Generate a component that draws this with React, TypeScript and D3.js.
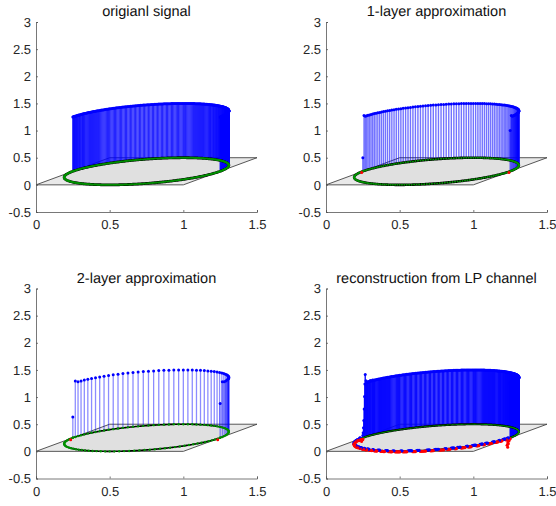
import React, { useEffect, useRef } from 'react';
import * as d3 from 'd3';

const xTicks = [0, 0.5, 1, 1.5];
const yTicks = [-0.5, 0, 0.5, 1, 1.5, 2, 2.5, 3];
const titles = ['origianl signal', '1-layer approximation', '2-layer approximation', 'reconstruction from LP channel'];

// the grey sheet under the ring, in axis units
const planeX = [0, 1, 1.5, 0.5];
const planeY = [0, 0, 0.5, 0.5];

// sample positions round the ring, degrees
const denseAngles = [
  0, 0.9, 1.8, 2.7, 3.6, 4.5, 5.4, 6.3, 7.2, 8.1, 9, 9.9, 10.8, 11.7, 12.6, 13.5, 14.4, 15.3, 16.2, 17.1,
  18, 18.9, 19.8, 20.7, 21.6, 22.5, 23.4, 24.3, 25.2, 26.1, 27, 27.9, 28.8, 29.7, 30.6, 31.5, 32.4, 33.3, 34.2, 35.1,
  36, 36.9, 37.8, 38.7, 39.6, 40.5, 41.4, 42.3, 43.2, 44.1, 45, 45.9, 46.8, 47.7, 48.6, 49.5, 50.4, 51.3, 52.2, 53.1,
  54, 54.9, 55.8, 56.7, 57.6, 58.5, 59.4, 60.3, 61.2, 62.1, 63, 63.9, 64.8, 65.7, 66.6, 67.5, 68.4, 69.3, 70.2, 71.1,
  72, 72.9, 73.8, 74.7, 75.6, 76.5, 77.4, 78.3, 79.2, 80.1, 81, 81.9, 82.8, 83.7, 84.6, 85.5, 86.4, 87.3, 88.2, 89.1,
  90, 90.9, 91.8, 92.7, 93.6, 94.5, 95.4, 96.3, 97.2, 98.1, 99, 99.9, 100.8, 101.7, 102.6, 103.5, 104.4, 105.3, 106.2, 107.1,
  108, 108.9, 109.8, 110.7, 111.6, 112.5, 113.4, 114.3, 115.2, 116.1, 117, 117.9, 118.8, 119.7, 120.6, 121.5, 122.4, 123.3, 124.2, 125.1,
  126, 126.9, 127.8, 128.7, 129.6, 130.5, 131.4, 132.3, 133.2, 134.1, 135, 135.9, 136.8, 137.7, 138.6, 139.5, 140.4, 141.3, 142.2, 143.1,
  144, 144.9, 145.8, 146.7, 147.6, 148.5, 149.4, 150.3, 151.2, 152.1, 153, 153.9, 154.8, 155.7, 156.6, 157.5, 158.4, 159.3, 160.2, 161.1,
  162, 162.9, 163.8, 164.7, 165.6, 166.5, 167.4, 168.3, 169.2, 170.1, 171, 171.9, 172.8, 173.7, 174.6, 175.5, 176.4, 177.3, 178.2, 179.1,
  180,
];
const mediumAngles = [
  0, 1.8, 3.6, 5.4, 7.2, 9, 10.8, 12.6, 14.4, 16.2, 18, 19.8, 21.6, 23.4, 25.2, 27, 28.8, 30.6, 32.4, 34.2,
  36, 37.8, 39.6, 41.4, 43.2, 45, 46.8, 48.6, 50.4, 52.2, 54, 55.8, 57.6, 59.4, 61.2, 63, 64.8, 66.6, 68.4, 70.2,
  72, 73.8, 75.6, 77.4, 79.2, 81, 82.8, 84.6, 86.4, 88.2, 90, 91.8, 93.6, 95.4, 97.2, 99, 100.8, 102.6, 104.4, 106.2,
  108, 109.8, 111.6, 113.4, 115.2, 117, 118.8, 120.6, 122.4, 124.2, 126, 127.8, 129.6, 131.4, 133.2, 135, 136.8, 138.6, 140.4, 142.2,
  144, 145.8, 147.6, 149.4, 151.2, 153, 154.8, 156.6, 158.4, 160.2, 162, 163.8, 165.6, 167.4, 169.2, 171, 172.8, 174.6, 176.4, 178.2,
  180,
];
const coarseAngles = [
  0, 3.6, 7.2, 10.8, 14.4, 18, 21.6, 25.2, 28.8, 32.4, 36, 39.6, 43.2, 46.8, 50.4, 54, 57.6, 61.2, 64.8, 68.4,
  72, 75.6, 79.2, 82.8, 86.4, 90, 93.6, 97.2, 100.8, 104.4, 108, 111.6, 115.2, 118.8, 122.4, 126, 129.6, 133.2, 136.8, 140.4,
  144, 147.6, 151.2, 154.8, 158.4, 162, 165.6, 169.2, 172.8, 176.4, 180,
];

// heights over the upper half of the ring
const originalValues = [
  1, 1, 1, 1, 1, 1, 1, 1, 1, 1, 1, 1, 1, 1, 1, 1, 1, 1, 1, 1,
  1, 1, 1, 1, 1, 1, 1, 1, 1, 1, 1, 1, 1, 1, 1, 1, 1, 1, 1, 1,
  1, 1, 1, 1, 1, 1, 1, 1, 1, 1, 1, 1, 1, 1, 1, 1, 1, 1, 1, 1,
  1, 1, 1, 1, 1, 1, 1, 1, 1, 1, 1, 1, 1, 1, 1, 1, 1, 1, 1, 1,
  1, 1, 1, 1, 1, 1, 1, 1, 1, 1, 1, 1, 1, 1, 1, 1, 1, 1, 1, 1,
  1, 1, 1, 1, 1, 1, 1, 1, 1, 1, 1, 1, 1, 1, 1, 1, 1, 1, 1, 1,
  1, 1, 1, 1, 1, 1, 1, 1, 1, 1, 1, 1, 1, 1, 1, 1, 1, 1, 1, 1,
  1, 1, 1, 1, 1, 1, 1, 1, 1, 1, 1, 1, 1, 1, 1, 1, 1, 1, 1, 1,
  1, 1, 1, 1, 1, 1, 1, 1, 1, 1, 1, 1, 1, 1, 1, 1, 1, 1, 1, 1,
  1, 1, 1, 1, 1, 1, 1, 1, 1, 1, 1, 1, 1, 1, 1, 1, 1, 1, 1, 1,
  1,
];
const layer1Values = [
  0.75, 1.02, 1, 1, 1, 1, 1, 1, 1, 1, 1, 1, 1, 1, 1, 1, 1, 1, 1, 1,
  1, 1, 1, 1, 1, 1, 1, 1, 1, 1, 1, 1, 1, 1, 1, 1, 1, 1, 1, 1,
  1, 1, 1, 1, 1, 1, 1, 1, 1, 1, 1, 1, 1, 1, 1, 1, 1, 1, 1, 1,
  1, 1, 1, 1, 1, 1, 1, 1, 1, 1, 1, 1, 1, 1, 1, 1, 1, 1, 1, 1,
  1, 1, 1, 1, 1, 1, 1, 1, 1, 1, 1, 1, 1, 1, 1, 1, 1, 1, 1, 1.02,
  0.25,
];
const layer2Values = [
  0.63, 1.015, 1, 1, 1, 1, 1, 1, 1, 1, 1, 1, 1, 1, 1, 1, 1, 1, 1, 1,
  1, 1, 1, 1, 1, 1, 1, 1, 1, 1, 1, 1, 1, 1, 1, 1, 1, 1, 1, 1,
  1, 1, 1, 1, 1, 1, 1, 1, 1, 1.03, 0.385,
];
const reconValues = [
  1, 1.02, 1.01, 1, 1, 0.99, 1, 1.01, 1, 1, 1, 0.99, 1, 1, 1.01, 1, 1, 1, 1, 1,
  1, 1, 1, 1, 1, 1, 1, 1, 1, 1, 1, 1, 1, 1, 1, 1, 1, 1, 1, 1,
  1, 1, 1, 1, 1, 1, 1, 1, 1, 1, 1, 1, 1, 1, 1, 1, 1, 1, 1, 1,
  1, 1, 1, 1, 1, 1, 1, 1, 1, 1, 1, 1, 1, 1, 1, 1, 1, 1, 1, 1,
  1, 1, 1, 1, 1, 1, 1, 1, 1, 1, 1, 1, 1, 1, 1, 1, 1, 1, 1, 1,
  1, 1, 1, 1, 1, 1, 1, 1, 1, 1, 1, 1, 1, 1, 1, 1, 1, 1, 1, 1,
  1, 1, 1, 1, 1, 1, 1, 1, 1, 1, 1, 1, 1, 1, 1, 1, 1, 1, 1, 1,
  1, 1, 1, 1, 1, 1, 1, 1, 1, 1, 1, 1, 1, 1, 1, 1, 1, 1, 1, 1,
  1, 1, 1, 1, 1, 1, 1, 1, 1, 1, 1, 1, 1, 1, 1, 1, 1, 1, 1, 1,
  1, 1, 1, 1, 1, 1, 1.01, 1, 1, 1.01, 1, 1, 0.99, 1, 1.01, 1.03,
];
// small leftovers on the lower half, red when below zero
const reconLowerValues = [
  -0.02, -0.02, -0.02, 0.01, 0.01, 0.01, -0.01, -0.01, 0.01, 0.01, 0.01, 0.01, -0.01, -0.01, -0.01, 0.01, 0.01, -0.01, -0.01, -0.01,
  -0.01, 0.01, 0.01, 0.01, -0.01, -0.01, -0.01, -0.01, 0.01, 0.01, 0.01, -0.01, -0.01, 0.01, 0.01, 0.01, -0.01, -0.01, -0.01, 0.01,
  0.01, 0.01, 0.01, -0.01, -0.01, -0.01, 0.01, 0.01, -0.01, -0.01, -0.01, -0.01, 0.01, 0.01, 0.01, -0.01, -0.01, 0.01, 0.01, 0.01,
  -0.01, -0.01, -0.01, 0.01, 0.01, -0.01, -0.01, -0.01, -0.01, 0.01, 0.01, 0.01, 0.01, -0.01, -0.01, -0.01, 0.01, 0.01, 0.01, -0.01,
  -0.01, -0.01, -0.01, -0.01, 0.01, 0.01, 0.01, -0.01, -0.01, -0.01, 0.01, 0.01, 0.01, 0.01, -0.01, -0.01, -0.01, -0.01, 0.01, 0.01,
  -0.01, -0.01, -0.01, -0.01, -0.01, 0.01, 0.01, -0.01, -0.01, -0.01, -0.01, 0.01, 0.01, 0.01, -0.01, -0.01, -0.01, -0.01, -0.01, 0.01,
  0.01, 0.01, -0.01, -0.01, -0.01, -0.01, 0.01, 0.01, -0.01, -0.01, -0.01, -0.01, 0.01, 0.01, 0.01, -0.01, -0.01, -0.01, 0.01, 0.01,
  -0.01, -0.01, -0.01, 0.01, 0.01, 0.01, -0.01, -0.01, 0.01, 0.01, 0.01, -0.01, -0.01, -0.01, 0.01, 0.01, -0.01, -0.01, -0.01, 0.01,
  0.01, 0.01, -0.01, -0.01, 0.01, 0.01, 0.01, -0.01, -0.01, -0.01, 0.01, 0.01, -0.01, -0.01, 0.01, 0.01, 0.01, -0.01, -0.01, 0.01,
  0.01, -0.01, -0.01, -0.01, 0.01, 0.01, -0.01, -0.01, 0.01, 0.01, -0.01, -0.01, -0.02, -0.02, 0.02, 0.02, -0.02, -0.03, -0.03, -0.03,
  -0.03,
];

// odd samples next to the jumps
const layer1EdgeAngles = [-1.8, 181.8];
const layer1EdgeValues = [-0.015, -0.015];
const layer2EdgeAngles = [-3.6, 183.6];
const layer2EdgeValues = [-0.02, -0.02];
const reconEdgeAngles = [176.5, 177, 177.5, 178, 178.5, 179, 179.5, 180, 181, 182, -1.8, -2.7, -3.6, -4.5];
const reconEdgeValues = [1.15, 0.98, 0.75, 0.52, 0.31, 0.18, 0.09, 0.04, -0.03, -0.06, -0.05, -0.1, -0.16, -0.12];

const panels = [
  { angles: denseAngles, values: originalValues, edgeAngles: [], edgeValues: [], lower: [], stemW: 1.3, stemO: 0.85, ringW: 2.8, dotR: 1 },
  { angles: mediumAngles, values: layer1Values, edgeAngles: layer1EdgeAngles, edgeValues: layer1EdgeValues, lower: [], stemW: 1.4, stemO: 0.55, ringW: 2.6, dotR: 1 },
  { angles: coarseAngles, values: layer2Values, edgeAngles: layer2EdgeAngles, edgeValues: layer2EdgeValues, lower: [], stemW: 1.3, stemO: 0.45, ringW: 1.6, dotR: 1.2 },
  { angles: denseAngles, values: reconValues, edgeAngles: reconEdgeAngles, edgeValues: reconEdgeValues, lower: reconLowerValues, stemW: 1.4, stemO: 0.95, ringW: 2.2, dotR: 0.6 },
];

const lefts = [36, 326, 36, 326];
const tops = [22, 22, 288.5, 288.5];
const plotW = 221;
const plotH = 190;

const BLUE = '#0000ff';
const RED = '#ff0000';
const GREEN = '#009000';
const FONT = '"Liberation Sans", Arial, sans-serif';

// oblique view of the circle lying on the sheet
const ringX = (deg: number) => {
  const t = (deg * Math.PI) / 180;
  return 0.75 + 0.5 * Math.cos(t) + 0.25 * Math.sin(t);
};
const ringY = (deg: number) => 0.25 + 0.25 * Math.sin((deg * Math.PI) / 180);

function Panel({ index }: { index: number }) {
  const gRef = useRef<SVGGElement>(null);
  const p = panels[index];

  const x = d3.scaleLinear().domain([0, 1.5]).range([0, plotW]);
  const y = d3.scaleLinear().domain([-0.5, 3]).range([plotH, 0]);

  useEffect(() => {
    const g = d3.select(gRef.current);
    g.selectAll('.ax').remove();
    const ax = g.append('g').attr('class', 'ax');
    const xa = ax.append('g').attr('transform', `translate(0,${plotH})`)
      .call(d3.axisBottom(x).tickValues(xTicks).tickSize(-2).tickPadding(8).tickFormat((d) => String(d)));
    const ya = ax.append('g')
      .call(d3.axisLeft(y).tickValues(yTicks).tickSize(-2).tickPadding(5).tickFormat((d) => String(d)));
    [xa, ya].forEach((a) => {
      a.attr('font-family', FONT).attr('font-size', 13);
      a.selectAll('text').attr('fill', '#262626').attr('text-rendering', 'geometricPrecision');
      a.selectAll('line,path').attr('stroke', '#555555').attr('stroke-width', 0.8);
    });
  }, []);

  const planePts = planeX.map((v, i) => [x(v), y(planeY[i])]);
  const planePath = d3.line()(planePts as [number, number][]) + 'Z';

  const ringAngles = denseAngles.concat(denseAngles.slice(1).map((a) => 180 + a));
  const ringPath = d3.line<number>().x((a) => x(ringX(a))).y((a) => y(ringY(a)))(ringAngles) + 'Z';

  const upper = p.values.map((v, i) => ({ a: p.angles[i], v }));
  const edges = p.edgeValues.map((v, i) => ({ a: p.edgeAngles[i], v }));
  const lowerDots = p.lower.map((v, i) => ({ a: -denseAngles[i], v }));
  const stems = upper.concat(edges);
  const greenAngles = p.angles.concat(p.angles.map((a) => -a));

  return (
    <g ref={gRef} transform={`translate(${lefts[index]},${tops[index]})`}>
      <path d={planePath} fill="#e9e9e9" stroke="#444444" strokeWidth={0.9} />
      <path d={ringPath} fill="#e0e0e0" stroke="none" />
      {stems.map((d, i) => (
        <line key={i} x1={x(ringX(d.a))} x2={x(ringX(d.a))} y1={y(ringY(d.a))} y2={y(ringY(d.a) + d.v)}
          stroke={d.v < 0 ? RED : BLUE} strokeWidth={p.stemW} strokeOpacity={p.stemO} />
      ))}
      <path d={ringPath} fill="none" stroke="#000000" strokeWidth={p.ringW} />
      {greenAngles.map((a, i) => (
        <circle key={i} cx={x(ringX(a))} cy={y(ringY(a))} r={p.dotR} fill={GREEN} />
      ))}
      {lowerDots.map((d, i) => (
        <circle key={i} cx={x(ringX(d.a))} cy={y(ringY(d.a) + d.v)} r={1.6} fill={d.v < 0 ? RED : BLUE} />
      ))}
      {stems.map((d, i) => (
        <circle key={i} cx={x(ringX(d.a))} cy={y(ringY(d.a) + d.v)} r={1.5} fill={d.v < 0 ? RED : BLUE} />
      ))}
      <text x={plotW / 2} y={-6} textAnchor="middle" fontFamily={FONT} fontSize={14.5} fill="#111111" textRendering="geometricPrecision">
        {titles[index]}
      </text>
    </g>
  );
}

export default function App() {
  return (
    <svg width={556} height={506} style={{ position: 'absolute', left: 0, top: 0, background: '#ffffff' }}>
      {panels.map((_, i) => <Panel key={i} index={i} />)}
    </svg>
  );
}
